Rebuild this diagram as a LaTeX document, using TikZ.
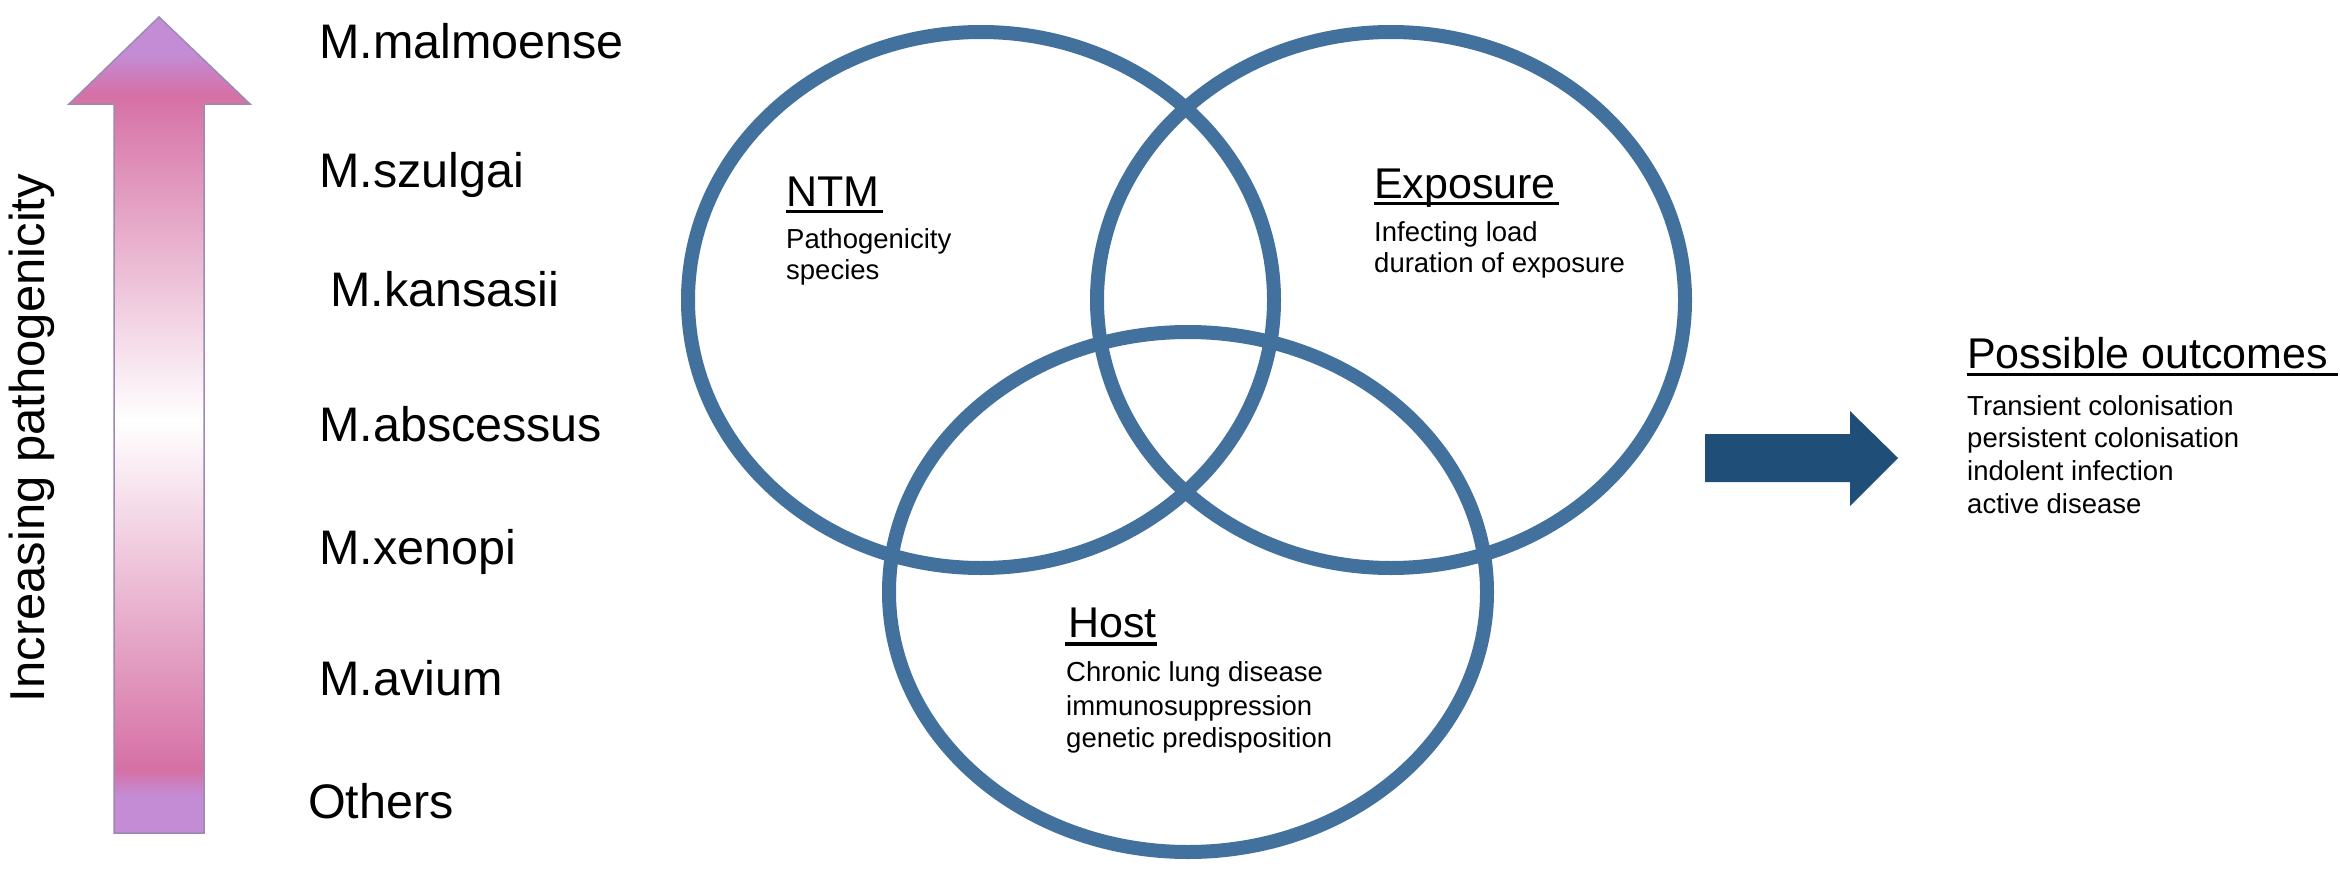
\documentclass[tikz,border=0pt]{standalone}
\usepackage{fontspec}
\setmainfont{Liberation Sans}
\usetikzlibrary{shapes.geometric}
\definecolor{vennblue}{HTML}{41719C}
\definecolor{arrowblue}{HTML}{1F4E79}
\definecolor{lavc}{HTML}{C38CD4}
\definecolor{pinkc}{HTML}{D670A5}
\definecolor{arrowline}{HTML}{9C8AB5}
\pgfdeclareverticalshading{pathoshade}{100bp}{color(0bp)=(lavc); color(25bp)=(lavc); color(27.3bp)=(lavc); color(28.9bp)=(pinkc); color(50.3bp)=(white); color(70.2bp)=(pinkc); color(72.7bp)=(lavc); color(75bp)=(lavc); color(100bp)=(lavc)}
\begin{document}
\begin{tikzpicture}[x=1pt,y=-1pt,
  venn/.style={draw=vennblue, line width=14pt, ellipse, inner sep=0pt, outer sep=0pt},
  species/.style={anchor=base west, inner sep=0pt, font=\fontsize{48.5}{58}\selectfont},
  title/.style={anchor=base west, inner sep=0pt, font=\fontsize{43}{52}\selectfont},
  body/.style={anchor=base west, inner sep=0pt, font=\fontsize{27.5}{33}\selectfont},
  uline/.style={line width=3pt}]
\useasboundingbox (0,0) rectangle (2340,875);
\fill[white] (0,0) rectangle (2340,875);
% gradient arrow
\shadedraw[shading=pathoshade, draw=arrowline, line width=1.5pt]
  (114,833) -- (114,104) -- (69,104) -- (159,17) -- (250,104) -- (204,104) -- (204,833) -- cycle;
\node[anchor=base, inner sep=0pt, rotate=90, font=\fontsize{49}{58}\selectfont] (incr) at (44,438) {Increasing pathogenicity};
% species
\node[species] (s1) at (319,59) {M.malmoense};
\node[species] (s2) at (319,187) {M.szulgai};
\node[species] (s3) at (330,306) {M.kansasii};
\node[species] (s4) at (319,441) {M.abscessus};
\node[species] (s5) at (319,564) {M.xenopi};
\node[species] (s6) at (319,695) {M.avium};
\node[species] (s7) at (308,818) {Others};
% venn
\node[venn, minimum width=586pt, minimum height=536pt] (ntm) at (981,300) {};
\node[venn, minimum width=588pt, minimum height=536pt] (exposure) at (1391,300) {};
\node[venn, minimum width=598pt, minimum height=520pt] (host) at (1188,592) {};
% NTM text
\node[title] (ntmT) at (786,206) {NTM};
\draw[uline] ([yshift=-5pt]ntmT.base west) -- ([yshift=-5pt,xshift=3pt]ntmT.base east);
\node[body] (ntm1) at (786,248) {Pathogenicity};
\node[body] (ntm2) at (786,279) {species};
% Exposure text
\node[title] (expT) at (1374,198) {Exposure};
\draw[uline] ([yshift=-5pt]expT.base west) -- ([yshift=-5pt,xshift=3pt]expT.base east);
\node[body] (exp1) at (1374,241) {Infecting load};
\node[body] (exp2) at (1374,272) {duration of exposure};
% Host text
\node[title] (hostT) at (1068,637) {Host};
\draw[uline, line width=4pt] ([yshift=-7pt,xshift=-3pt]hostT.base west) -- ([yshift=-7pt]hostT.base east);
\node[body] (host1) at (1066,681) {Chronic lung disease};
\node[body] (host2) at (1066,715) {immunosuppression};
\node[body] (host3) at (1066,747) {genetic predisposition};
% outcome arrow
\fill[arrowblue] (1705,434) -- (1850,434) -- (1850,411) -- (1898,458) -- (1850,506) -- (1850,482) -- (1705,482) -- cycle;
% outcomes
\node[title] (outT) at (1967,368) {Possible outcomes};
\draw[uline] ([yshift=-6pt]outT.base west) -- ([yshift=-6pt,xshift=10pt]outT.base east);
\node[body] (out1) at (1967,415) {Transient colonisation};
\node[body] (out2) at (1967,447) {persistent colonisation};
\node[body] (out3) at (1967,480) {indolent infection};
\node[body] (out4) at (1967,513) {active disease};
\end{tikzpicture}
\end{document}
